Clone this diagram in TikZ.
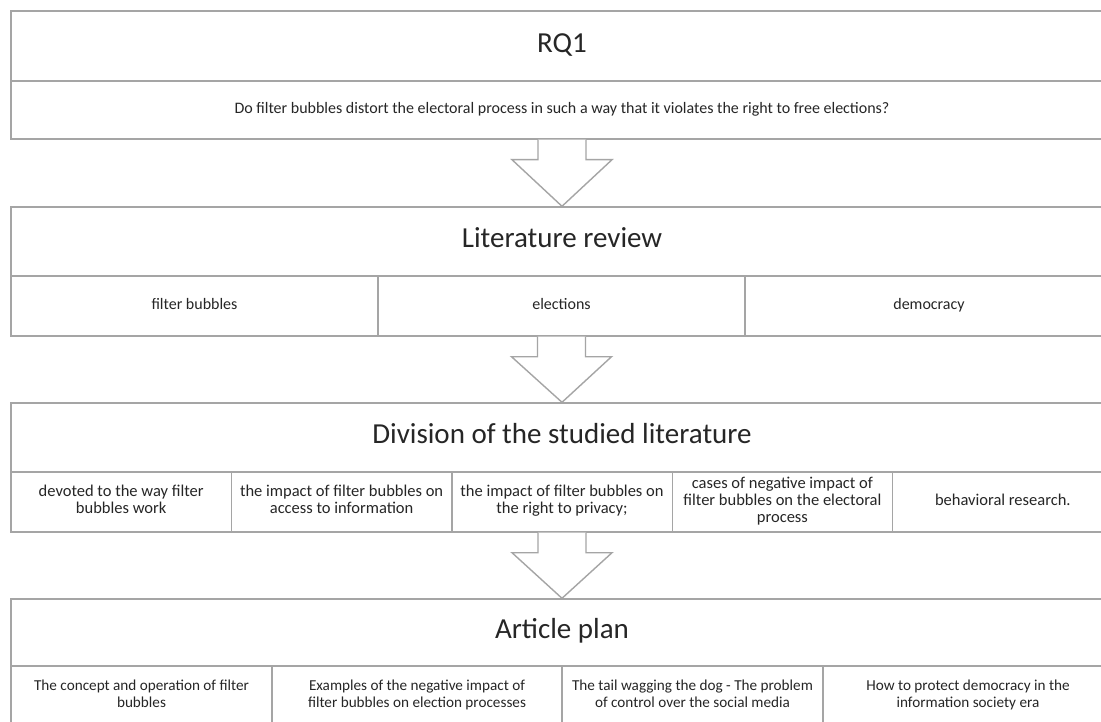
\documentclass[tikz,border=0pt]{standalone}
\usepackage{fontspec}
\setmainfont{Carlito}
\usetikzlibrary{calc}
\definecolor{linegray}{HTML}{A5A5A5}
\definecolor{textdark}{HTML}{262626}
\tikzset{
  cell/.style={draw=linegray, line width=1.4pt, rectangle, inner sep=0pt, align=center,
               text=textdark, font=\fontsize{16}{17}\selectfont,
               execute at begin node=\strut, execute at end node=\strut},
  divcell/.style={cell, font=\fontsize{16.5}{17}\selectfont},
  artcell/.style={cell, font=\fontsize{15.2}{17}\selectfont},
  titlecell/.style={cell, font=\fontsize{29}{32}\selectfont},
  bigarrow/.style={draw=linegray, line width=1.4pt, fill=white, line join=miter}
}
\begin{document}
\begin{tikzpicture}[x=1pt,y=-1pt]
\useasboundingbox (0,0) rectangle (1101,722);
\clip (0,0) rectangle (1101,722);
\fill[white] (0,0) rectangle (1101,722);
% RQ1
\node[titlecell, minimum width=1102pt, minimum height=70pt] (rq) at (562,46) {RQ1};
\node[cell, minimum width=1102pt, minimum height=58pt] (q) at (562,110)
  {Do filter bubbles distort the electoral process in such a way that it violates the right to free elections?};
% Literature review
\node[titlecell, minimum width=1102pt, minimum height=69pt] (lt) at (562,241.5) {Literature review};
\node[cell, minimum width=367pt, minimum height=60pt] (l1) at (194.5,306) {filter bubbles};
\node[cell, minimum width=367pt, minimum height=60pt] (l2) at (561.5,306) {elections};
\node[cell, minimum width=368pt, minimum height=60pt] (l3) at (929,306) {democracy};
% Division
\node[titlecell, minimum width=1102pt, minimum height=69pt] (dt) at (562,437.5) {Division of the studied literature};
\node[divcell, minimum width=220.4pt, minimum height=60pt] (d1) at (121.2,502) {devoted to the way filter\\bubbles work};
\node[divcell, minimum width=220.4pt, minimum height=60pt] (d2) at (341.6,502) {the impact of filter bubbles on\\access to information};
\node[divcell, minimum width=220.4pt, minimum height=60pt] (d3) at (562,502) {the impact of filter bubbles on\\the right to privacy;};
\node[divcell, minimum width=220.4pt, minimum height=60pt] (d4) at (782.4,502) {cases of negative impact of\\filter bubbles on the electoral\\process};
\node[divcell, minimum width=220.4pt, minimum height=60pt] (d5) at (1002.8,502) {behavioral research.};
% Article plan
\node[titlecell, minimum width=1102pt, minimum height=67pt] (at) at (562,632.5) {Article plan};
\node[artcell, minimum width=261pt, minimum height=60pt] (a1) at (141.5,696) {The concept and operation of filter\\bubbles};
\node[artcell, minimum width=290pt, minimum height=60pt] (a2) at (417,696) {Examples of the negative impact of\\filter bubbles on election processes};
\node[artcell, minimum width=261pt, minimum height=60pt] (a3) at (692.5,696) {The tail wagging the dog - The problem\\of control over the social media};
\node[artcell, minimum width=290pt, minimum height=60pt] (a4) at (968,696) {How to protect democracy in the\\information society era};
% arrows
\foreach \s/\t in {q/lt, l2/dt, d3/at}{
  \draw[bigarrow] ([xshift=-24pt]\s.south) -- ([xshift=-24pt,yshift=-20pt]\s.south)
    -- ([xshift=-50pt,yshift=-20pt]\s.south) -- (\t.north)
    -- ([xshift=50pt,yshift=-20pt]\s.south) -- ([xshift=24pt,yshift=-20pt]\s.south)
    -- ([xshift=24pt]\s.south);
}
\end{tikzpicture}
\end{document}
